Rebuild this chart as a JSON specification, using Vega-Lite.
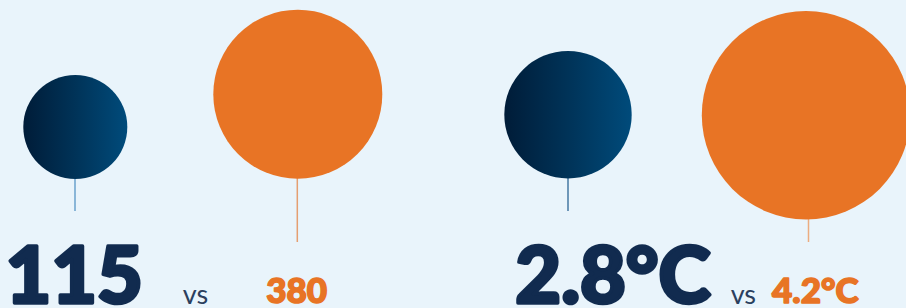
{
  "$schema": "https://vega.github.io/schema/vega-lite/v6.json",
  "width": 906,
  "height": 308,
  "padding": 0,
  "autosize": {"type": "none"},
  "background": "#E9F4FB",
  "config": {"view": {"stroke": null}, "axis": {"disable": true}},
  "data": {
    "values": [
      {"metric": "count", "scenario": "now", "label": "115"},
      {"metric": "count", "scenario": "future", "label": "380"},
      {"metric": "temp", "scenario": "now", "label": "2.8°C"},
      {"metric": "temp", "scenario": "future", "label": "4.2°C"}
    ]
  },
  "resolve": {"scale": {"x": "independent", "y": "independent", "size": "independent", "color": "independent"}},
  "layer": [
    {
      "transform": [{"filter": "datum.scenario === 'future'"}],
      "mark": {"type": "tick", "orient": "vertical", "thickness": 1.5, "size": 92},
      "encoding": {
        "x": {"field": "metric", "type": "nominal", "scale": {"type": "point", "domain": ["count", "temp"], "range": [297.3, 808.5], "padding": 0}, "axis": null},
        "y": {"field": "metric", "type": "nominal", "scale": {"type": "point", "domain": ["count", "temp"], "range": [196, 196], "padding": 0}, "axis": null},
        "color": {"field": "metric", "type": "nominal", "scale": {"domain": ["count", "temp"], "range": ["#E27B36", "#EC8D4C"]}, "legend": null}
      }
    },
    {
      "transform": [{"filter": "datum.scenario === 'now'"}],
      "mark": {"type": "tick", "orient": "vertical", "thickness": 1.6, "size": 62},
      "encoding": {
        "x": {"field": "metric", "type": "nominal", "scale": {"type": "point", "domain": ["count", "temp"], "range": [75, 568], "padding": 0}, "axis": null},
        "y": {"field": "metric", "type": "nominal", "scale": {"type": "point", "domain": ["count", "temp"], "range": [180, 180], "padding": 0}, "axis": null},
        "color": {"field": "metric", "type": "nominal", "scale": {"domain": ["count", "temp"], "range": ["#3F86BE", "#0E4F85"]}, "legend": null}
      }
    },
    {
      "transform": [{"filter": "datum.scenario === 'future'"}],
      "mark": {"type": "point", "shape": "circle", "filled": true, "opacity": 1, "fill": "#E87425", "strokeWidth": 0},
      "encoding": {
        "x": {"field": "metric", "type": "nominal", "scale": {"type": "point", "domain": ["count", "temp"], "range": [297.8, 806], "padding": 0}, "axis": null},
        "y": {"field": "metric", "type": "nominal", "scale": {"type": "point", "domain": ["count", "temp"], "range": [94.2, 115.2], "padding": 0}, "axis": null},
        "size": {"field": "metric", "type": "nominal", "scale": {"type": "ordinal", "domain": ["count", "temp"], "range": [28561, 43430]}, "legend": null}
      }
    },
    {
      "transform": [{"filter": "datum.scenario === 'now'"}],
      "mark": {
        "type": "point", "shape": "circle", "filled": true, "opacity": 1, "strokeWidth": 0,
        "fill": {"gradient": "linear", "x1": 0, "y1": 0, "x2": 1, "y2": 0,
          "stops": [{"offset": 0, "color": "#001C38"}, {"offset": 0.5, "color": "#003358"}, {"offset": 1, "color": "#004B7B"}]}
      },
      "encoding": {
        "x": {"field": "metric", "type": "nominal", "scale": {"type": "point", "domain": ["count", "temp"], "range": [75.3, 568], "padding": 0}, "axis": null},
        "y": {"field": "metric", "type": "nominal", "scale": {"type": "point", "domain": ["count", "temp"], "range": [127, 114.7], "padding": 0}, "axis": null},
        "size": {"field": "metric", "type": "nominal", "scale": {"type": "ordinal", "domain": ["count", "temp"], "range": [10816, 16230]}, "legend": null}
      }
    },
    {
      "transform": [{"filter": "datum.scenario === 'now'"}],
      "mark": {"type": "text", "font": "Lato", "fontWeight": 900, "fontSize": 79, "color": "#112B4F", "stroke": "#112B4F", "strokeWidth": 3.5, "strokeJoin": "round", "align": "center", "baseline": "alphabetic", "letterSpacing": 1.5},
      "encoding": {
        "x": {"field": "metric", "type": "nominal", "scale": {"type": "point", "domain": ["count", "temp"], "range": [74.2, 613], "padding": 0}, "axis": null},
        "y": {"field": "metric", "type": "nominal", "scale": {"type": "point", "domain": ["count", "temp"], "range": [302.5, 302.5], "padding": 0}, "axis": null},
        "text": {"field": "label"}
      }
    },
    {
      "transform": [{"filter": "datum.scenario === 'now'"}],
      "mark": {"type": "text", "font": "Lato", "fontWeight": 400, "fontSize": 27, "color": "#2B3F5E", "align": "center", "baseline": "alphabetic", "text": "vs"},
      "encoding": {
        "x": {"field": "metric", "type": "nominal", "scale": {"type": "point", "domain": ["count", "temp"], "range": [195.5, 743.3], "padding": 0}, "axis": null},
        "y": {"field": "metric", "type": "nominal", "scale": {"type": "point", "domain": ["count", "temp"], "range": [304, 304], "padding": 0}, "axis": null}
      }
    },
    {
      "transform": [{"filter": "datum.scenario === 'future'"}],
      "mark": {"type": "text", "font": "Lato", "fontWeight": 900, "fontSize": 35, "color": "#E87425", "stroke": "#E87425", "strokeWidth": 1.6, "strokeJoin": "round", "align": "center", "baseline": "alphabetic", "letterSpacing": 1},
      "encoding": {
        "x": {"field": "metric", "type": "nominal", "scale": {"type": "point", "domain": ["count", "temp"], "range": [296.7, 815.3], "padding": 0}, "axis": null},
        "y": {"field": "metric", "type": "nominal", "scale": {"type": "point", "domain": ["count", "temp"], "range": [303.3, 303.3], "padding": 0}, "axis": null},
        "text": {"field": "label"}
      }
    }
  ]
}
